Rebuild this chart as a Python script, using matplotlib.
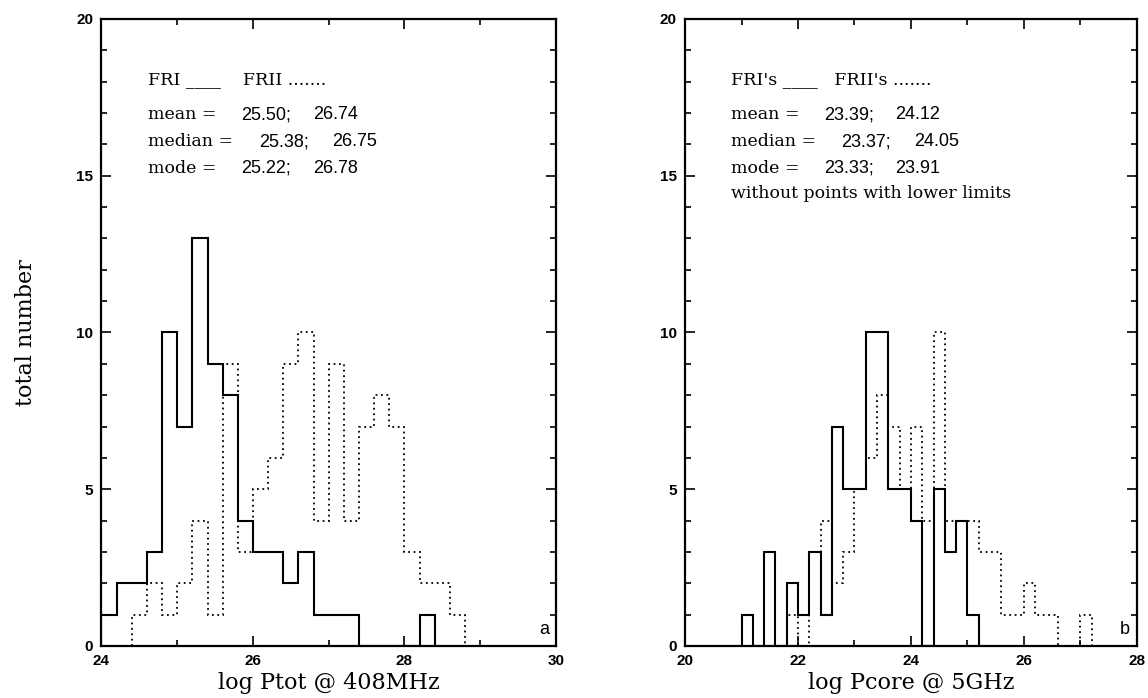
import matplotlib
matplotlib.use("Agg")
import matplotlib.pyplot as plt
import numpy as np
from matplotlib.ticker import MultipleLocator

BIN = 0.2

# panel a: log Ptot @ 408MHz, counts per 0.2 dex bin
ptot_start_fr1 = 24.0
ptot_fr1 = [1, 2, 2, 3, 10, 7, 13, 9, 8, 4, 3, 3, 2, 3, 1, 1, 1, 0, 0, 0, 0, 1]
ptot_start_fr2 = 24.4
ptot_fr2 = [1, 2, 1, 2, 4, 1, 9, 3, 5, 6, 9, 10, 4, 9, 4, 7, 8, 7, 3, 2, 2, 1]

# panel b: log Pcore @ 5GHz
pcore_start_fr1 = 21.0
pcore_fr1 = [1, 0, 3, 0, 2, 1, 3, 1, 7, 5, 5, 10, 10, 5, 5, 4, 0, 5, 3, 4, 1]
pcore_start_fr2 = 21.8
pcore_fr2 = [1, 0, 3, 4, 2, 3, 5, 6, 8, 7, 5, 7, 4, 10, 4, 4, 4, 3, 3, 1, 1, 2, 1, 1, 0, 0, 1]

header_a = "FRI ____    FRII ......."
header_b = "FRI's ____   FRII's ......."
stat_names = ["mean =", "median =", "mode ="]
stats_a = [("25.50;", "26.74"), ("25.38;", "26.75"), ("25.22;", "26.78")]
stats_b = [("23.39;", "24.12"), ("23.37;", "24.05"), ("23.33;", "23.91")]
note_b = "without points with lower limits"

SERIF = ["DejaVu Serif"]
SANS = ["Liberation Sans", "DejaVu Sans"]


def edges(start, counts):
    return start + BIN * np.arange(len(counts) + 1)


def style_axes(ax, xlim, xmajor):
    ax.set_xlim(*xlim)
    ax.set_ylim(0, 20)
    ax.xaxis.set_major_locator(MultipleLocator(xmajor))
    ax.xaxis.set_minor_locator(MultipleLocator(1))
    ax.yaxis.set_major_locator(MultipleLocator(5))
    ax.yaxis.set_minor_locator(MultipleLocator(1))
    ax.tick_params(which="both", direction="in", top=True, right=True, width=1.2)
    ax.tick_params(which="major", length=7)
    ax.tick_params(which="minor", length=4)
    ax.tick_params(axis="both", pad=6)
    for lab in ax.get_xticklabels() + ax.get_yticklabels():
        lab.set_family(SANS)
        lab.set_fontweight("bold")
        lab.set_fontsize(11)
    for sp in ax.spines.values():
        sp.set_linewidth(1.6)


def add_text(ax, header, stats, note=None):
    x0 = 0.102
    ys = [0.847, 0.804, 0.762]
    ax.text(x0, 0.903, header, transform=ax.transAxes, family=SERIF, fontsize=12.5, va="center")
    for name, (v1, v2), y in zip(stat_names, stats, ys):
        off1, off2 = (0.244, 0.405) if name.startswith("median") else (0.205, 0.363)
        ax.text(x0, y, name, transform=ax.transAxes, family=SERIF, fontsize=12.5, va="center")
        ax.text(x0 + off1, y, v1, transform=ax.transAxes, family=SANS, fontsize=13, va="center")
        ax.text(x0 + off2, y, v2, transform=ax.transAxes, family=SANS, fontsize=13, va="center")
    if note:
        ax.text(x0, 0.721, note, transform=ax.transAxes, family=SERIF, fontsize=12.5, va="center")


fig = plt.figure(figsize=(11.48, 6.98), dpi=100)
ax_a = fig.add_axes([0.0884, 0.0745, 0.3959, 0.8983])
ax_b = fig.add_axes([0.5967, 0.0745, 0.3937, 0.8983])

dots = (0, (1, 2))
ax_a.stairs(ptot_fr1, edges(ptot_start_fr1, ptot_fr1), baseline=0, color="black", lw=1.5)
ax_a.stairs(ptot_fr2, edges(ptot_start_fr2, ptot_fr2), baseline=0, color="black", lw=1.3, ls=dots)
ax_b.stairs(pcore_fr1, edges(pcore_start_fr1, pcore_fr1), baseline=0, color="black", lw=1.5)
ax_b.stairs(pcore_fr2, edges(pcore_start_fr2, pcore_fr2), baseline=0, color="black", lw=1.3, ls=dots)

style_axes(ax_a, (24, 30), 2)
style_axes(ax_b, (20, 28), 2)

add_text(ax_a, header_a, stats_a)
add_text(ax_b, header_b, stats_b, note_b)

ax_a.text(0.985, 0.012, "a", transform=ax_a.transAxes, family=SANS, fontsize=13, ha="right", va="bottom")
ax_b.text(0.985, 0.012, "b", transform=ax_b.transAxes, family=SANS, fontsize=13, ha="right", va="bottom")

ax_a.set_xlabel("log Ptot @ 408MHz", family=SERIF, fontsize=16, labelpad=3)
ax_b.set_xlabel("log Pcore @ 5GHz", family=SERIF, fontsize=16, labelpad=3)
ax_a.set_ylabel("total number", family=SERIF, fontsize=16, labelpad=28)

fig.savefig("out.png", dpi=100, facecolor="white")
